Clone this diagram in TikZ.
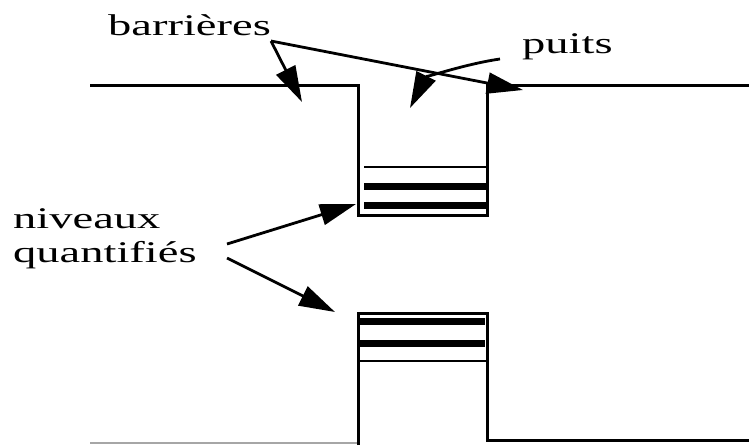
\documentclass[tikz,border=0pt]{standalone}
\usepackage{fontspec}
\setmainfont{Liberation Serif}
\usetikzlibrary{arrows.meta}
\newcommand{\widetext}[1]{\scalebox{1.55}[1]{#1}}
\begin{document}
\begin{tikzpicture}[x=1pt,y=-1pt,
  wall/.style={line width=3pt},
  thinlvl/.style={line width=2.6pt},
  thicklvl/.style={line width=7pt},
  arr/.style={line width=2.8pt,-{Triangle[length=36pt,width=21pt]}},
  lbl/.style={font=\fontsize{30}{34}\selectfont, inner sep=0pt, anchor=base west}]
\useasboundingbox (0,0) rectangle (749,445);
% top well
\draw[wall] (90,85) -- (358,85) -- (358,215) -- (487,215) -- (487,85) -- (749,85);
\draw[thinlvl] (364,167) -- (487,167);
\draw[thicklvl] (364,186) -- (487,186);
\draw[thicklvl] (364,205) -- (487,205);
% bottom well
\draw[line width=1.8pt, gray!70] (90,443) -- (358,443);
\draw[wall] (358,445) -- (358,313) -- (487,313) -- (487,440) -- (749,440);
\draw[thicklvl] (358,321) -- (485,321);
\draw[thicklvl] (358,343) -- (485,343);
\draw[thinlvl] (358,361) -- (487,361);
% labels
\node[lbl] (barr) at (108,35) {\widetext{barrières}};
\node[lbl] (puits) at (522,53) {\widetext{puits}};
\node[lbl] (niv) at (13,228) {\widetext{niveaux}};
\node[lbl] (quant) at (13,262) {\widetext{quantifiés}};
% arrow anchors
\coordinate (b0) at (271,41);
\coordinate (b1) at (302,102);
\coordinate (b2) at (523,90);
\coordinate (p0) at (500,59);
\coordinate (p1) at (410,108);
\coordinate (n0) at (227,244);
\coordinate (n1) at (356,204);
\coordinate (q0) at (227,258);
\coordinate (q1) at (335,312);
\draw[arr] (b0) -- (b1);
\draw[arr] (b0) -- (b2);
\draw[arr] (p0) .. controls (465,64) and (425,78) .. (p1);
\draw[arr] (n0) -- (n1);
\draw[arr] (q0) -- (q1);
\end{tikzpicture}
\end{document}
